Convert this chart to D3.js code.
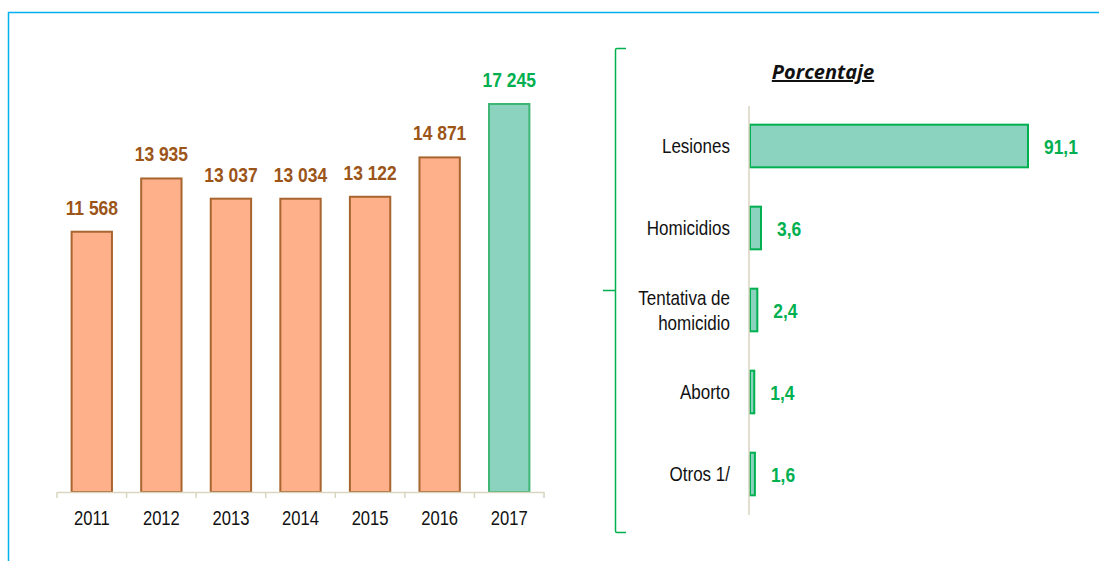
<!DOCTYPE html>
<html>
<head>
<meta charset="utf-8">
<script src="https://cdn.jsdelivr.net/npm/d3@7"></script>
<style>
  body { margin: 0; background: #fff; }
  svg { display: block; }
</style>
</head>
<body>
<div id="chart"></div>
<script>
// Colors
var frameBlue = "#00B0F0";
var orangeFill = "#FDB08A";
var orangeLine = "#A8652F";
var brownText = "#9C5518";
var greenFill = "#8CD3BF";
var greenLine = "#00B050";
var axisGrey = "#D9D5C0";

// no narrow font installed, so squeeze Liberation Sans horizontally
const narrow = "'Liberation Sans', Arial, sans-serif";
const squeeze = 0.83;

// Data
const years = ["2011", "2012", "2013", "2014", "2015", "2016", "2017"];
const totals = [11568, 13935, 13037, 13034, 13122, 14871, 17245];

const crimes = ["Lesiones", "Homicidios", "Tentativa de homicidio", "Aborto", "Otros 1/"];
const shares = [91.1, 3.6, 2.4, 1.4, 1.6];

const W = 1099, H = 561;

const svg = d3.select("#chart")
    .append("svg")
    .attr("width", W)
    .attr("height", H);

// frame
svg.append("path")
    .attr("d", "M8.5,561 V12.5 H1099")
    .attr("fill", "none")
    .attr("stroke", frameBlue)
    .attr("stroke-width", 1.5);

const fmt = v => d3.format(",")(v).replace(/,/g, " ");
const place = (px, py) => `translate(${px},${py}) scale(${squeeze},1)`;

// ---- left chart: totals by year ----
const x = d3.scaleBand()
    .domain(years)
    .range([57, 544])
    .paddingInner(0.42)
    .paddingOuter(0.21);

const y = d3.scaleLinear()
    .domain([0, 20000])
    .range([492, 492 - 388 / 17245 * 20000]);

svg.selectAll(".bar")
    .data(years)
    .enter().append("rect")
    .attr("x", d => x(d))
    .attr("width", x.bandwidth())
    .attr("y", (d, i) => y(totals[i]))
    .attr("height", (d, i) => y(0) - y(totals[i]))
    .attr("fill", d => d == "2017" ? greenFill : orangeFill)
    .attr("stroke", d => d == "2017" ? "#3DB574" : orangeLine)
    .attr("stroke-width", 2);

svg.selectAll(".val")
    .data(years)
    .enter().append("text")
    .attr("transform", (d, i) => place(x(d) + x.bandwidth() / 2, y(totals[i]) - 17))
    .attr("text-anchor", "middle")
    .attr("font-family", narrow)
    .attr("font-weight", "bold")
    .attr("font-size", 21)
    .attr("fill", d => d == "2017" ? greenLine : brownText)
    .text((d, i) => fmt(totals[i]));

// x axis, ticks sit between categories
const xAxis = svg.append("g")
    .attr("transform", "translate(0,492)")
    .call(d3.axisBottom(x).tickSize(0).tickPadding(0));
xAxis.select(".domain").attr("stroke", axisGrey).attr("stroke-width", 1.5);
xAxis.selectAll("text")
    .attr("dy", 0)
    .attr("y", 0)
    .attr("transform", place(0, 33))
    .attr("font-family", narrow)
    .attr("font-size", 20)
    .attr("fill", "#111");
xAxis.selectAll(".sep")
    .data(d3.range(years.length + 1))
    .enter().append("line")
    .attr("x1", i => 57 + i * (487 / years.length))
    .attr("x2", i => 57 + i * (487 / years.length))
    .attr("y1", 0)
    .attr("y2", 6)
    .attr("stroke", axisGrey)
    .attr("stroke-width", 1.5);

// ---- bracket ----
svg.append("path")
    .attr("d", "M626,48.5 H617 Q615.5,48.5 615.5,50 V531 Q615.5,532.5 617,532.5 H626 M615.5,290.5 H603")
    .attr("fill", "none")
    .attr("stroke", greenLine)
    .attr("stroke-width", 1.5);

// ---- right chart: percentage by crime ----
const yb = d3.scaleBand()
    .domain(crimes)
    .range([105, 515])
    .paddingInner(0.48)
    .paddingOuter(0.24);

const xb = d3.scaleLinear()
    .domain([0, 91.1])
    .range([750, 1028]);

svg.append("text")
    .attr("x", 823)
    .attr("y", 79)
    .attr("text-anchor", "middle")
    .attr("font-family", "'Open Sans', 'Noto Sans', sans-serif")
    .attr("font-weight", "bold")
    .attr("font-style", "italic")
    .attr("font-size", 20)
    .attr("text-decoration", "underline")
    .attr("fill", "#111")
    .text("Porcentaje");

svg.selectAll(".hbar")
    .data(crimes)
    .enter().append("rect")
    .attr("x", xb(0))
    .attr("y", d => yb(d))
    .attr("width", (d, i) => xb(shares[i]) - xb(0))
    .attr("height", yb.bandwidth())
    .attr("fill", greenFill)
    .attr("stroke", greenLine)
    .attr("stroke-width", 2);

svg.selectAll(".hval")
    .data(crimes)
    .enter().append("text")
    .attr("transform", (d, i) => place(xb(shares[i]) + 16, yb(d) + yb.bandwidth() / 2))
    .attr("dy", "0.36em")
    .attr("font-family", narrow)
    .attr("font-weight", "bold")
    .attr("font-size", 21)
    .attr("fill", greenLine)
    .text((d, i) => d3.format(".1f")(shares[i]).replace(".", ","));

// y axis line
svg.append("line")
    .attr("x1", 749).attr("x2", 749)
    .attr("y1", 106).attr("y2", 515)
    .attr("stroke", axisGrey)
    .attr("stroke-width", 1.5);

// category labels (wrap "Tentativa de homicidio")
svg.selectAll(".cat")
    .data(crimes)
    .enter().append("text")
    .attr("transform", d => place(730, yb(d) + yb.bandwidth() / 2))
    .attr("text-anchor", "end")
    .attr("font-family", narrow)
    .attr("font-size", 20.5)
    .attr("fill", "#111")
    .each(function (d) {
        const lines = d == "Tentativa de homicidio" ? ["Tentativa de", "homicidio"] : [d];
        const t = d3.select(this);
        lines.forEach((l, k) => {
            t.append("tspan")
                .attr("x", 0)
                .attr("dy", k == 0 ? (0.36 - (lines.length - 1) * 0.6) + "em" : "1.2em")
                .text(l);
        });
    });
</script>
</body>
</html>
